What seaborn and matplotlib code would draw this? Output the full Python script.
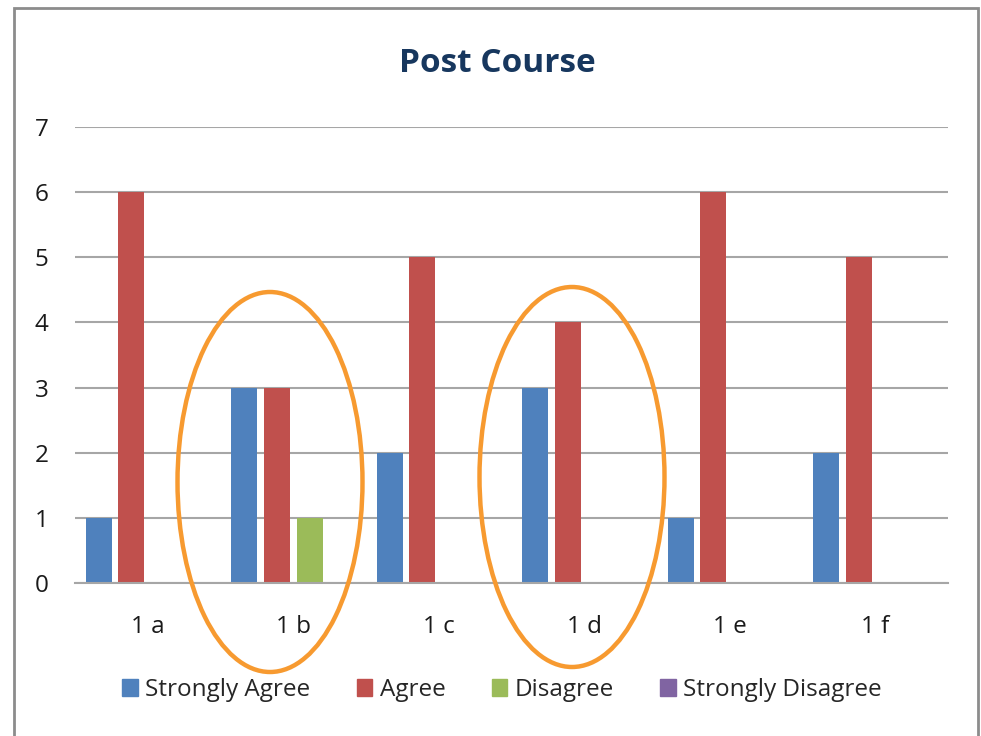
import pandas as pd
import matplotlib
matplotlib.use("Agg")
import matplotlib.pyplot as plt
import seaborn as sns
from matplotlib.patches import Ellipse, Rectangle
from matplotlib.transforms import IdentityTransform

questions = ["1 a", "1 b", "1 c", "1 d", "1 e", "1 f"]
responses = ["Strongly Agree", "Agree", "Disagree", "Strongly Disagree"]
strongly_agree = [1, 3, 2, 3, 1, 2]
agree = [6, 3, 5, 4, 6, 5]
disagree = [0, 1, 0, 0, 0, 0]
strongly_disagree = [0, 0, 0, 0, 0, 0]
colors = ["#4F81BD", "#C0504D", "#9BBB59", "#8064A2"]

# long form table for seaborn
rows = []
for resp, vals in zip(responses, [strongly_agree, agree, disagree, strongly_disagree]):
    for q, v in zip(questions, vals):
        rows.append({"question": q, "response": resp, "count": v})
df = pd.DataFrame(rows)

sns.set_style("white")
plt.rcParams["font.family"] = ["Open Sans", "DejaVu Sans"]

W, H = 981, 736
fig = plt.figure(figsize=(W / 100, H / 100), dpi=100)
ax = fig.add_axes([75 / W, 1 - 583 / H, (948 - 75) / W, (583 - 127) / H])

sns.barplot(data=df, x="question", y="count", hue="response",
            order=questions, hue_order=responses, palette=colors, saturation=1,
            width=0.9, gap=0.2, linewidth=0, errorbar=None, ax=ax)

ax.set_ylim(0, 7)
ax.set_yticks(range(0, 8))
ax.set_xlim(-0.5, len(questions) - 0.5)
ax.yaxis.grid(True, color="#A6A6A6", linewidth=1.5)
ax.set_axisbelow(True)
for side in ["left", "right", "top"]:
    ax.spines[side].set_visible(False)
ax.spines["bottom"].set_color("#A6A6A6")
ax.spines["bottom"].set_linewidth(1.5)
ax.tick_params(axis="both", length=0, labelsize=17.5, colors="#1A1A1A")
ax.tick_params(axis="x", pad=23)
ax.tick_params(axis="y", pad=19)
ax.set_xlabel("")
ax.set_ylabel("")

ax.get_legend().remove()
handles = [Rectangle((0, 0), 1, 1, color=c) for c in colors]
fig.legend(handles, responses, loc="center", bbox_to_anchor=(502 / W, 1 - 690 / H),
           ncol=4, frameon=False, fontsize=17.5, handlelength=0.65, handleheight=0.65,
           handletextpad=0.3, columnspacing=1.9)

fig.text(497 / W, 1 - 63 / H, "Post Course", ha="center", va="center",
         fontsize=24, fontweight="bold", color="#17375E")

# orange ellipses drawn in pixel space
for cx, cy in [(270, 482), (572, 477)]:
    fig.add_artist(Ellipse((cx, H - cy), 185, 380, transform=IdentityTransform(),
                           fill=False, edgecolor="#F79A30", linewidth=3.2))

# grey frame of the chart box
fig.add_artist(Rectangle((14, -20), 964, H - 8 + 20, transform=IdentityTransform(),
                         fill=False, edgecolor="#8C8C8C", linewidth=2))

fig.savefig("out.png", dpi=100)
